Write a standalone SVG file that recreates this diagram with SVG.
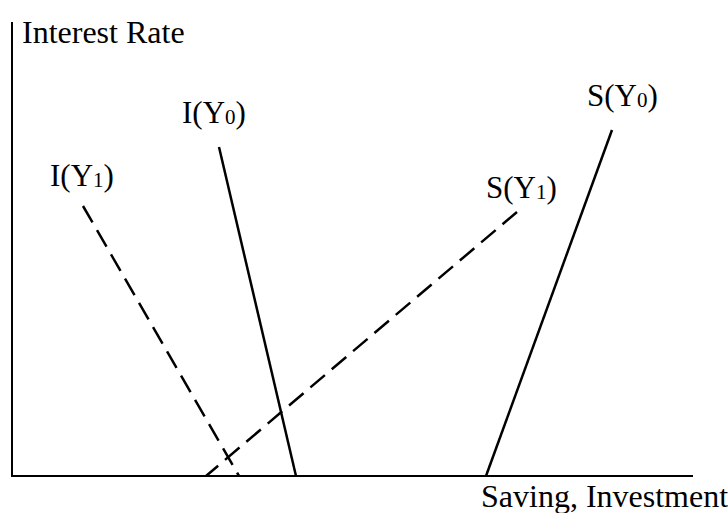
<svg xmlns="http://www.w3.org/2000/svg" width="728" height="513" viewBox="0 0 728 513">
<style>
text{font-family:"Liberation Serif","Times New Roman",serif;font-size:31px;fill:#000}
.big{font-size:32px}
.sub{font-size:21px}
.solid{stroke:#000;stroke-width:2.5;fill:none}
.dash{stroke:#000;stroke-width:2.5;fill:none;stroke-dasharray:19 9}
.axis{stroke:#000;stroke-width:2;fill:none}
</style>
<rect width="728" height="513" fill="#fff"/>
<g id="axes">
<line class="axis" x1="12" y1="22" x2="12" y2="477"/>
<line class="axis" x1="11" y1="476" x2="693" y2="476"/>
<text class="big" x="22" y="43">Interest Rate</text>
<text class="big" x="481" y="507">Saving, Investment</text>
</g>
<g id="connectors">
<line class="solid" x1="219" y1="147" x2="296" y2="476"/>
<line class="dash" x1="83" y1="206" x2="239" y2="476"/>
<line class="dash" x1="517" y1="212" x2="206" y2="476"/>
<line class="solid" x1="612" y1="130" x2="486" y2="476"/>
</g>
<g id="I0"><text x="182" y="123">I(Y<tspan class="sub" dy="1">0</tspan><tspan dy="-1">)</tspan></text></g>
<g id="I1"><text x="50" y="186">I(Y<tspan class="sub" dy="1">1</tspan><tspan dy="-1">)</tspan></text></g>
<g id="S1"><text x="486" y="198">S(Y<tspan class="sub" dy="1">1</tspan><tspan dy="-1">)</tspan></text></g>
<g id="S0"><text x="587" y="106">S(Y<tspan class="sub" dy="1">0</tspan><tspan dy="-1">)</tspan></text></g>
</svg>
